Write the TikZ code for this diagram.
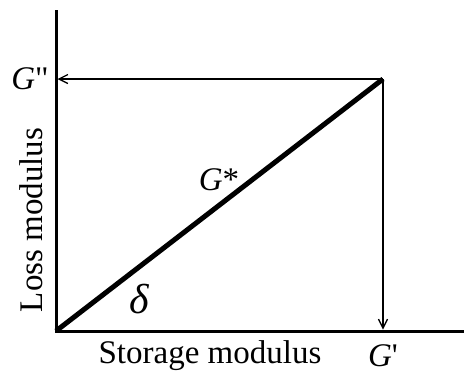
\documentclass[tikz,border=0pt]{standalone}
\usepackage{fontspec}
\setmainfont{Liberation Serif}
\newfontfamily\rawserif{Liberation Serif}[Ligatures=ResetAll]
\usetikzlibrary{arrows.meta}
\begin{document}
\begin{tikzpicture}[x=1pt,y=-1pt,
  axis/.style={line width=3pt},
  thinarrow/.style={line width=1.3pt,-{Straight Barb[length=9pt,width=9pt,line width=1.3pt]}},
  vec/.style={line width=5pt},
  lbl/.style={inner sep=0pt,font=\fontsize{33}{38}\selectfont}]
\useasboundingbox (0,0) rectangle (464,376);
\coordinate (O) at (56,331);
\coordinate (Ytop) at (56,10);
\coordinate (Xend) at (464,331);
\coordinate (P) at (383,79);
\coordinate (Gpp) at (57.5,79);
\coordinate (Gp) at (383,329.5);
\draw[axis] (Ytop) -- (O.center) -- (Xend);
\draw[thinarrow] (P) -- (Gpp);
\draw[thinarrow] (P) -- (Gp);
\draw[vec,line cap=butt] (O) -- (P);
\node[lbl] (lGpp) at (30,79) {\textit{G}{\rawserif\symbol{34}}};
\node[lbl] (lGp) at (383,356) {\textit{G}{\rawserif\symbol{39}}};
\node[lbl,rotate=90] (lLoss) at (31,220) {Loss modulus};
\node[lbl] (lStor) at (210,356) {Storage modulus};
\node[lbl] (lGs) at (219,180) {\textit{G}*};
\node[lbl,font=\fontsize{42}{46}\selectfont] (ld) at (140,299) {\textit{δ}};
\end{tikzpicture}
\end{document}
